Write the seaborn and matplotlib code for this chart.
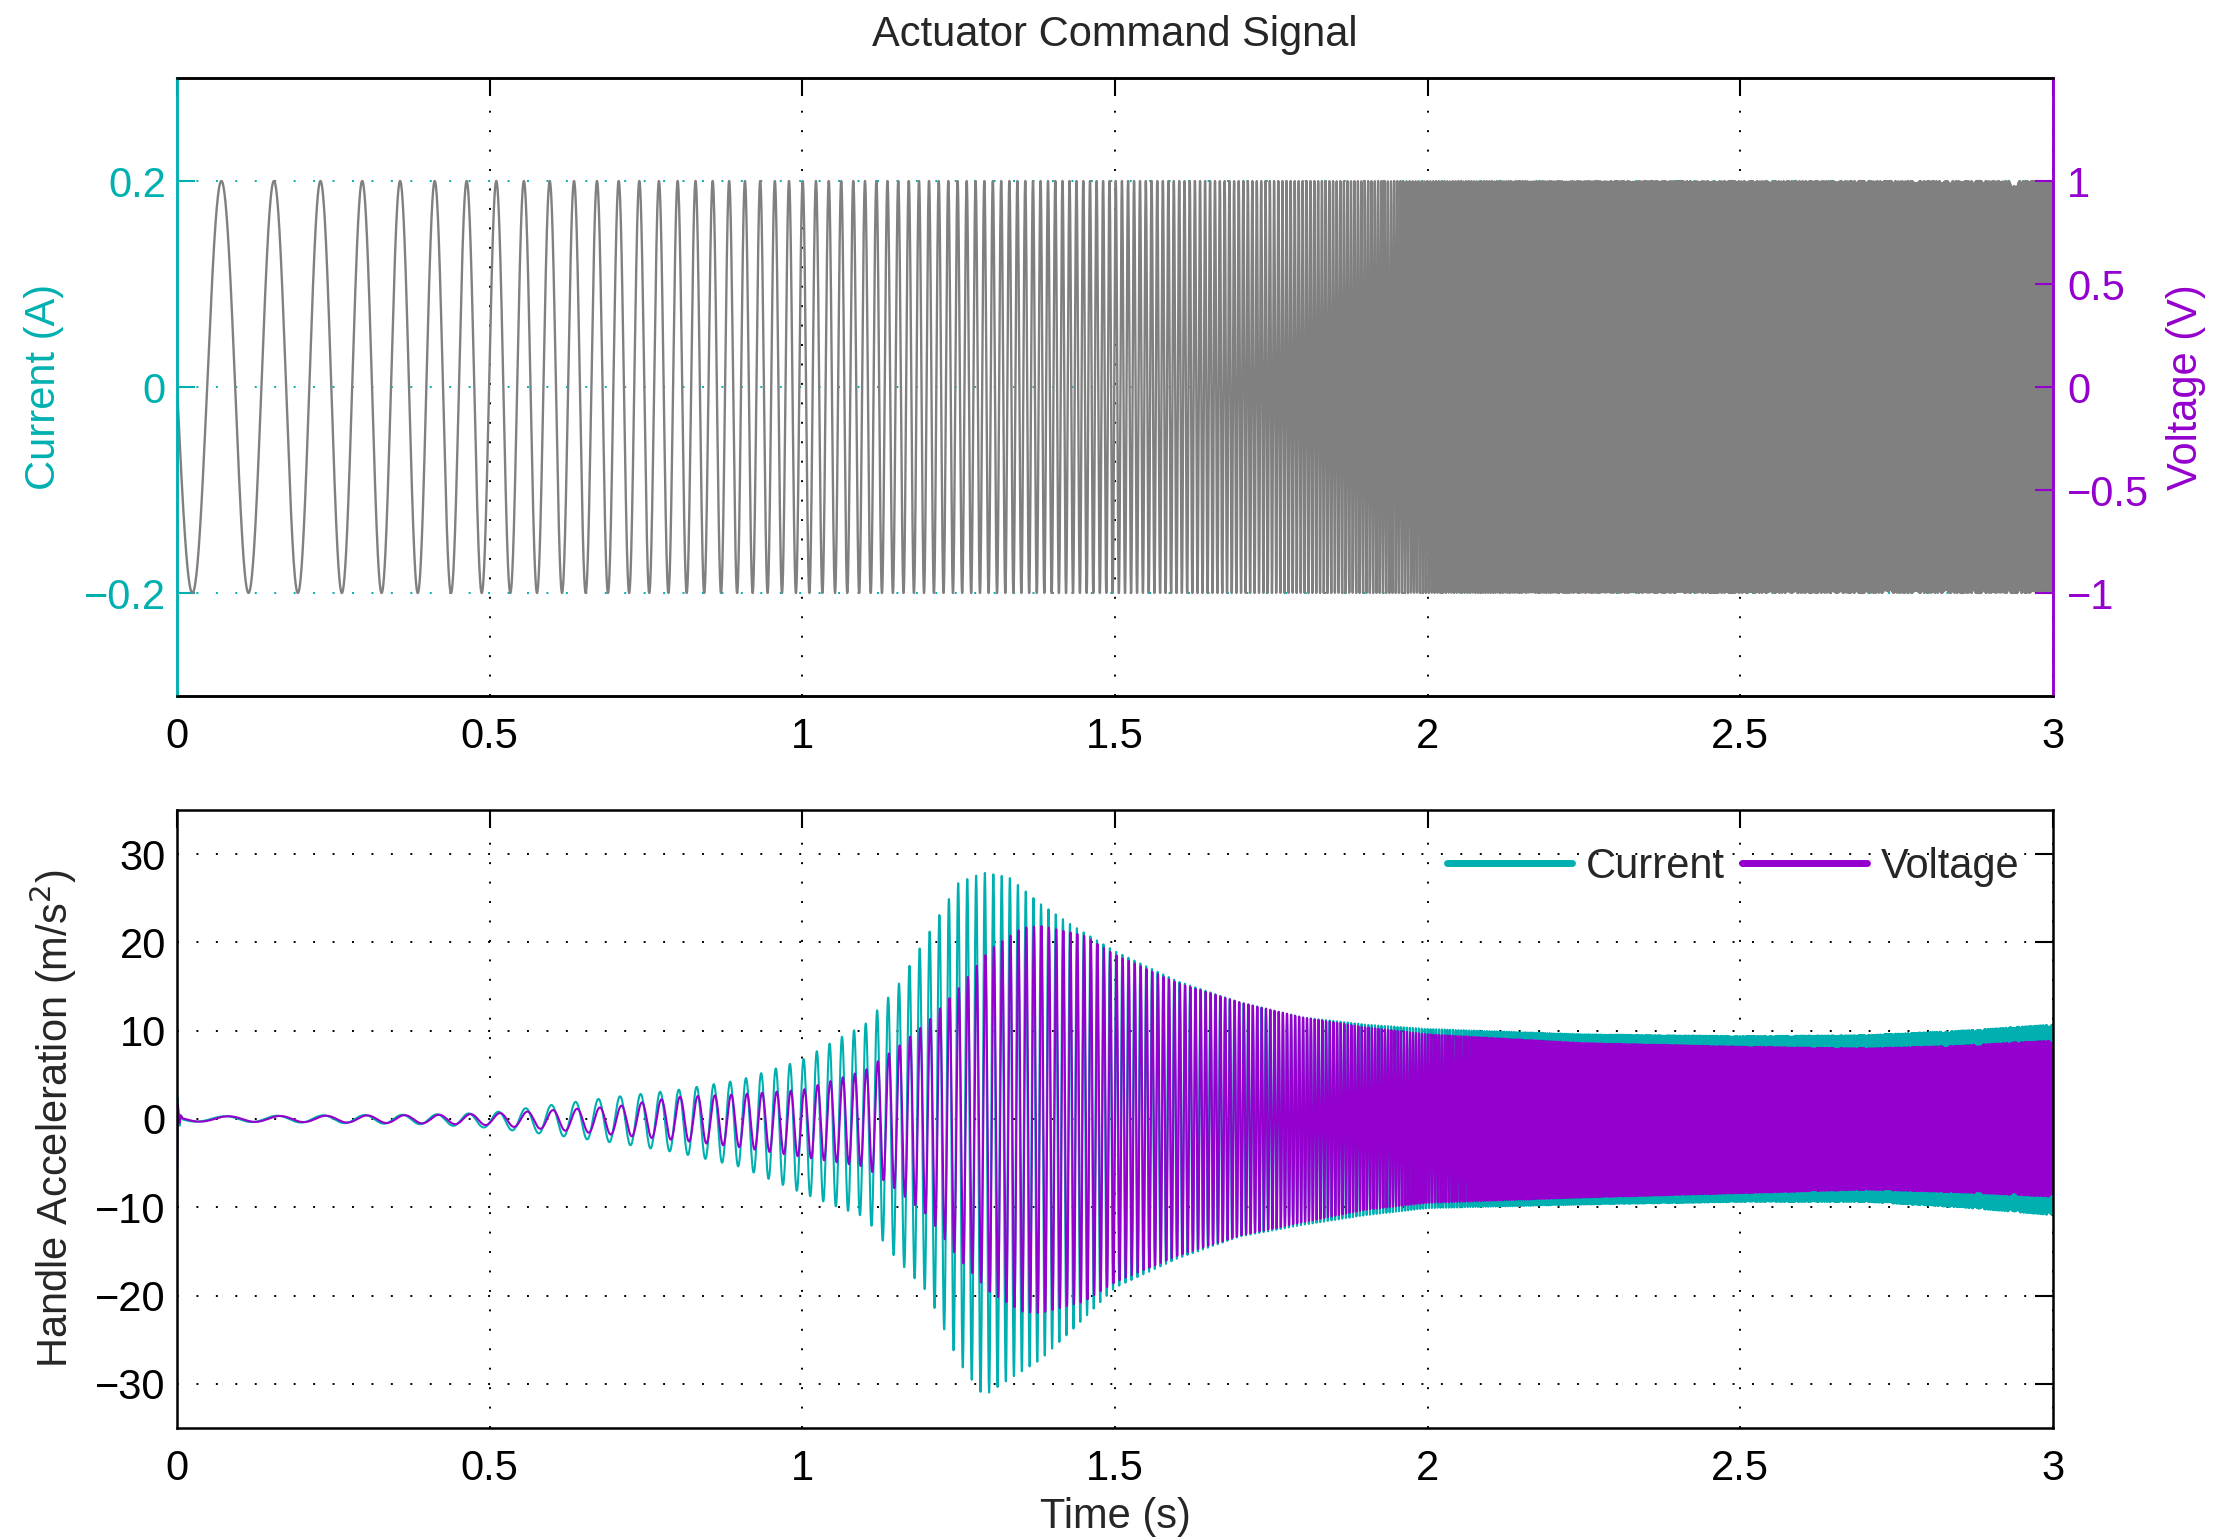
import numpy as np
import pandas as pd
import matplotlib
matplotlib.use("Agg")
import matplotlib.pyplot as plt
from matplotlib.lines import Line2D
import seaborn as sns

# ---------------- data ----------------
time_ticks = [0, 0.5, 1, 1.5, 2, 2.5, 3]
time_tick_labels = ["0", "0.5", "1", "1.5", "2", "2.5", "3"]
current_ticks = [-0.2, 0, 0.2]
current_tick_labels = ["\u22120.2", "0", "0.2"]
voltage_ticks = [-1, -0.5, 0, 0.5, 1]
voltage_tick_labels = ["\u22121", "\u22120.5", "0", "0.5", "1"]
accel_ticks = [-30, -20, -10, 0, 10, 20, 30]
accel_tick_labels = ["\u221230", "\u221220", "\u221210", "0", "10", "20", "30"]

# command sweep (logarithmic sine sweep, read from cycle spacing)
sweep_f_start = 10.0      # Hz
sweep_f_end = 1000.0      # Hz
sweep_duration = 3.0      # s
command_current_amp = 0.2 # A  (equals 1 V on the right axis)
sample_rate = 10000       # samples / s

# envelope of the acceleration with current drive
cur_env_t = [0.00, 0.05, 0.20, 0.40, 0.50, 0.60, 0.70, 0.80, 0.90, 1.00, 1.05, 1.10, 1.15, 1.20,
             1.25, 1.29, 1.33, 1.38, 1.43, 1.50, 1.60, 1.70, 1.80, 1.90, 2.00, 2.25, 2.50, 2.70, 2.85, 3.00]
cur_env_up = [0.3, 0.3, 0.4, 0.5, 0.7, 1.6, 2.5, 3.3, 4.4, 6.7, 8.8, 10.7, 14.8, 20.8,
              26.8, 27.9, 27.4, 24.4, 22.0, 19.0, 15.6, 13.2, 11.5, 10.7, 10.2, 9.6, 9.4, 9.5, 10.0, 10.7]
cur_env_lo = [-0.3, -0.3, -0.4, -0.6, -1.0, -1.8, -2.7, -3.8, -5.4, -8.4, -9.8, -11.1, -15.8, -19.6,
              -27.5, -31.4, -29.5, -27.3, -24.0, -19.1, -15.8, -13.3, -12.0, -10.9, -10.1, -9.7, -9.4, -9.4, -10.0, -10.9]

# envelope of the acceleration with voltage drive
vol_env_t = [0.00, 0.05, 0.20, 0.40, 0.50, 0.60, 0.70, 0.80, 0.90, 1.00, 1.10, 1.15, 1.20, 1.25,
             1.30, 1.35, 1.38, 1.45, 1.50, 1.60, 1.70, 1.80, 1.90, 2.00, 2.25, 2.50, 2.70, 2.85, 3.00]
vol_env_up = [0.3, 0.3, 0.35, 0.45, 0.6, 1.0, 1.4, 2.5, 2.8, 3.3, 5.5, 8.0, 11.0, 14.8,
              19.2, 21.6, 21.9, 20.8, 18.6, 15.4, 13.2, 11.5, 10.4, 9.6, 8.6, 8.2, 8.0, 8.3, 8.9]
vol_env_lo = [-0.3, -0.3, -0.35, -0.5, -0.7, -1.2, -1.8, -2.4, -3.2, -4.3, -5.4, -8.0, -10.9, -15.8,
              -19.6, -21.8, -22.0, -20.7, -18.5, -15.5, -13.2, -11.7, -10.3, -9.5, -8.9, -8.4, -8.0, -8.3, -8.8]

# start-up transient at t = 0
trans_t = [0.0, 0.001, 0.002, 0.004, 0.006, 0.009]
cur_trans = [-9.5, 2.3, 1.0, -0.8, 0.4, 0.0]
vol_trans = [-7.0, 1.5, 0.8, -0.6, 0.3, 0.0]

series_names = ["Current", "Voltage"]

# ---------------- build the sampled signals ----------------
t = np.arange(0, sweep_duration + 0.5 / sample_rate, 1.0 / sample_rate)
k = np.log(sweep_f_end / sweep_f_start) / sweep_duration
phase = 2 * np.pi * sweep_f_start * (np.exp(k * t) - 1) / k
command = -command_current_amp * np.sin(phase)

def response(env_t, up, lo, tr, lag):
    u = np.interp(t, env_t, up)
    l = np.interp(t, env_t, lo)
    mid = 0.5 * (u + l)
    amp = 0.5 * (u - l)
    y = mid - amp * np.sin(phase - lag)
    y = y + np.interp(t, trans_t, tr, right=0.0)
    return y

acc_current = response(cur_env_t, cur_env_up, cur_env_lo, cur_trans, 0.4)
acc_voltage = response(vol_env_t, vol_env_up, vol_env_lo, vol_trans, 0.8)

df_cmd = pd.DataFrame({"t": t, "cmd": command})
df_acc = pd.DataFrame({"t": t, "Current": acc_current, "Voltage": acc_voltage})

# ---------------- style ----------------
sns.set_style("white")
plt.rcParams["font.family"] = ["Liberation Sans", "DejaVu Sans"]
plt.rcParams["axes.unicode_minus"] = True

CYAN = "#00B0B0"
PURPLE = "#9400CD"
GRAY = "#808080"
FS = 30
DOT = (0, (1, 9))

fig = plt.figure(figsize=(22.2, 15.37), dpi=100)
ax1 = fig.add_axes([0.07973, 0.54717, 0.84505, 0.40208])
ax3 = fig.add_axes([0.07973, 0.07092, 0.84505, 0.40208])

# ---- top: command signal ----
sns.lineplot(data=df_cmd, x="t", y="cmd", ax=ax1, color=GRAY, lw=1.7,
             estimator=None, sort=False, legend=False)
ax1.set_xlim(0, 3)
ax1.set_ylim(-0.3, 0.3)
ax1.set_xticks(time_ticks)
ax1.set_xticklabels(time_tick_labels)
ax1.set_yticks(current_ticks)
ax1.set_yticklabels(current_tick_labels)
ax1.set_xlabel("")
ax1.set_ylabel("Current (A)", color=CYAN, fontsize=FS, labelpad=14)
ax1.set_title("Actuator Command Signal", fontsize=FS, pad=23)
ax1.set_axisbelow(True)
ax1.xaxis.grid(True, color="black", linestyle=DOT, lw=1.4)
ax1.yaxis.grid(True, color=CYAN, linestyle=DOT, lw=1.4)
ax1.tick_params(axis="x", direction="in", top=True, length=13, width=1.5,
                labelsize=FS, pad=15, colors="black")
ax1.tick_params(axis="y", direction="in", length=13, width=1.5,
                labelsize=FS, pad=8, colors=CYAN)

ax2 = ax1.twinx()
ax2.set_ylim(-1.5, 1.5)
ax2.set_yticks(voltage_ticks)
ax2.set_yticklabels(voltage_tick_labels)
ax2.set_ylabel("Voltage (V)", color=PURPLE, fontsize=FS, labelpad=12)
ax2.tick_params(axis="y", direction="in", length=13, width=1.5,
                labelsize=FS, pad=10, colors=PURPLE)
ax2.grid(False)

for ax in (ax1, ax2):
    for s in ax.spines.values():
        s.set_linewidth(1.8)
        s.set_color("black")
    ax.spines["left"].set_color(CYAN)
    ax.spines["right"].set_color(PURPLE)

# ---- bottom: handle acceleration ----
sns.lineplot(data=df_acc, x="t", y="Current", ax=ax3, color=CYAN, lw=1.5,
             estimator=None, sort=False, legend=False)
sns.lineplot(data=df_acc, x="t", y="Voltage", ax=ax3, color=PURPLE, lw=1.5,
             estimator=None, sort=False, legend=False)
ax3.set_xlim(0, 3)
ax3.set_ylim(-35, 35)
ax3.set_xticks(time_ticks)
ax3.set_xticklabels(time_tick_labels)
ax3.set_yticks(accel_ticks)
ax3.set_yticklabels(accel_tick_labels)
ax3.set_xlabel("Time (s)", fontsize=FS, labelpad=6)
ax3.set_ylabel("Handle Acceleration (m/s$^2$)", fontsize=FS, labelpad=12)
ax3.set_axisbelow(True)
ax3.grid(True, color="black", linestyle=DOT, lw=1.4)
ax3.tick_params(axis="both", direction="in", top=True, right=True, length=13,
                width=1.5, labelsize=FS, colors="black")
ax3.tick_params(axis="x", pad=15)
ax3.tick_params(axis="y", pad=8)
for s in ax3.spines.values():
    s.set_linewidth(1.8)
    s.set_color("black")

handles = [Line2D([], [], color=CYAN, lw=5), Line2D([], [], color=PURPLE, lw=5)]
ax3.legend(handles, series_names, loc="center right", bbox_to_anchor=(0.982, 0.908),
           ncol=2, frameon=False, fontsize=FS, handlelength=3.0, handletextpad=0.33,
           columnspacing=0.4, borderpad=0, borderaxespad=0)

fig.savefig("out.png", dpi=100, facecolor="white")
